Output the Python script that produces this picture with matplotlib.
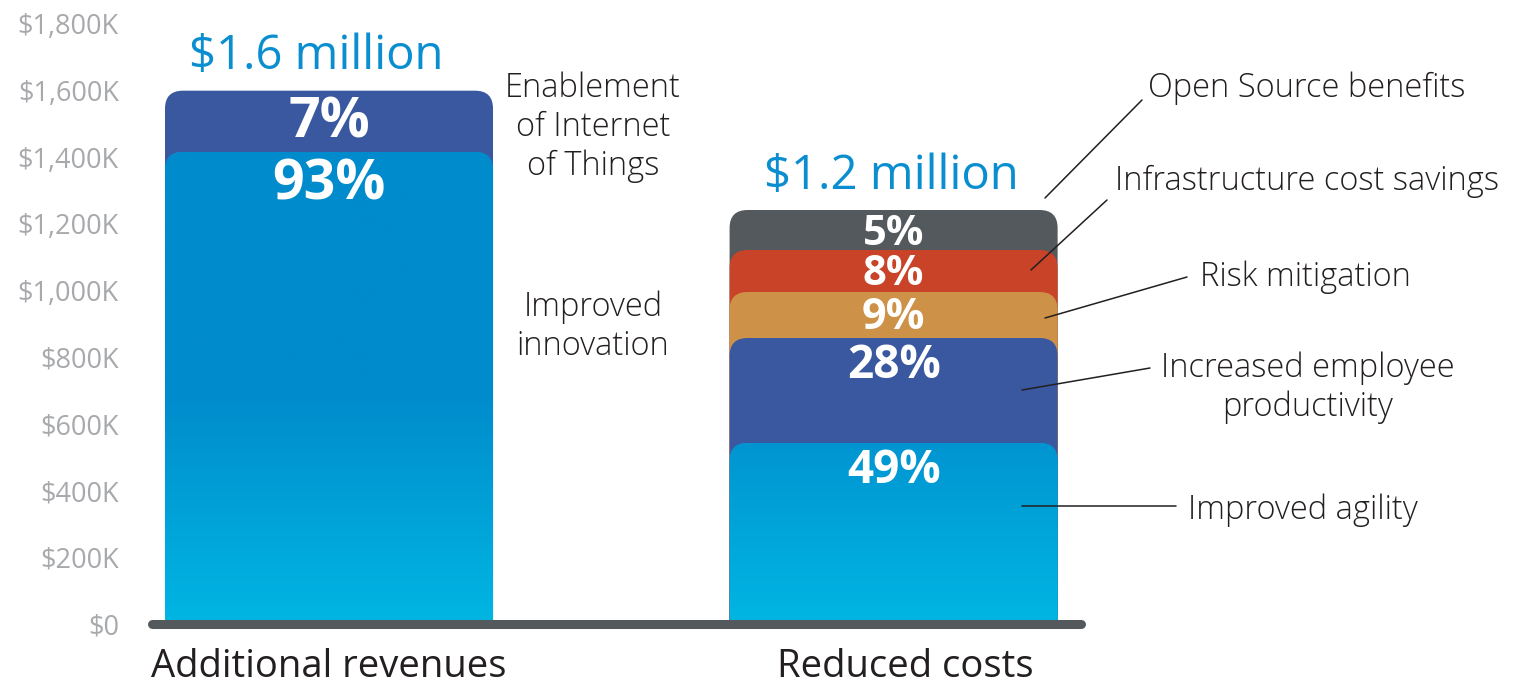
import numpy as np
import matplotlib
matplotlib.use("Agg")
import matplotlib.pyplot as plt
from matplotlib.patches import FancyBboxPatch
from matplotlib.colors import LinearSegmentedColormap

plt.rcParams['font.family'] = ['Open Sans', 'DejaVu Sans']

# ---------------------------------------------------------------
# data ($K), segments listed bottom -> top
# ---------------------------------------------------------------
categories = ["Additional revenues", "Reduced costs"]
totals_label = ["$1.6 million", "$1.2 million"]
rev_segments = [1416, 184]
rev_pcts = ["93%", "7%"]
cost_segments = [543, 315, 138, 126, 120]
cost_pcts = ["49%", "28%", "9%", "8%", "5%"]
rev_names = ["Improved\ninnovation", "Enablement\nof Internet\nof Things"]
cost_names = ["Improved agility", "Increased employee\nproductivity",
              "Risk mitigation", "Infrastructure cost savings",
              "Open Source benefits"]
y_ticks = [0, 200, 400, 600, 800, 1000, 1200, 1400, 1600, 1800]

# ---------------------------------------------------------------
# styling
# ---------------------------------------------------------------
LIGHT = "gradient"
rev_colors = [LIGHT, "#3A58A0"]
cost_colors = [LIGHT, "#3A58A0", "#CD9247", "#C84328", "#53595C"]
W, H = 1513, 686

fig = plt.figure(figsize=(W / 100, H / 100), dpi=100)
ax = fig.add_axes([148 / W, 62 / H, (1085 - 148) / W, 600 / H])
xlim = (-0.3206, 1.339)
ax.set_xlim(*xlim)
ax.set_ylim(0, 1800)
for s in ax.spines.values():
    s.set_visible(False)

bar_w = 0.581
px_x = (1085 - 148) / (xlim[1] - xlim[0])   # pixels per x unit
px_y = 600 / 1800                             # pixels per $K
radius_px = 18

grad_cmap = LinearSegmentedColormap.from_list("g", ["#00B6E3", "#008BCC"])


def draw_bar(xc, segs, colors, pcts, fsizes):
    tops = np.cumsum(segs)
    x0 = xc - bar_w / 2
    # top segments first so lower ones overlap them
    for i in range(len(segs) - 1, -1, -1):
        p = FancyBboxPatch((x0, -200), bar_w, tops[i] + 200,
                           boxstyle="round,pad=0,rounding_size=%f" % (radius_px / px_x),
                           mutation_aspect=px_x / px_y,
                           fc=colors[i] if colors[i] != LIGHT else "#00A0DA",
                           ec="none", zorder=2)
        ax.add_patch(p)
        if colors[i] == LIGHT:
            yy = np.linspace(0, 1, 256).reshape(-1, 1)
            yy = np.clip(yy * 1800 / 700, 0, 1)
            im = ax.imshow(yy, extent=(x0, x0 + bar_w, 0, 1800), origin="lower",
                           cmap=grad_cmap, aspect="auto", zorder=2.1)
            im.set_clip_path(p)
    for i in range(len(segs)):
        fs = fsizes[i]
        ax.annotate(pcts[i], (xc, tops[i]), xytext=(0, -fs * 1.389 * 0.59),
                    textcoords="offset pixels", ha="center", va="center",
                    color="white", fontsize=fs, fontweight="bold", zorder=5)
    return tops[-1]


t1 = draw_bar(0, rev_segments, rev_colors, rev_pcts, [40, 40])
t2 = draw_bar(1, cost_segments, cost_colors, cost_pcts, [33, 33, 31, 30, 30])

for xc, top, lab, dx in [(0, t1, totals_label[0], -13), (1, t2, totals_label[1], -2)]:
    ax.annotate(lab, (xc, top), xytext=(dx, 34), textcoords="offset pixels",
                ha="center", va="center", color="#0A8ED0", fontsize=34)

ax.set_xlim(*xlim)
ax.set_ylim(0, 1800)

# baseline
ax.plot([xlim[0] + 4 / px_x, xlim[1] - 4 / px_x], [0, 0], color="#53595C", lw=6.5,
        solid_capstyle="round", clip_on=False, zorder=4)

ax.set_yticks(y_ticks)
ax.set_yticklabels(["$0"] + ["${:,}K".format(v) for v in y_ticks[1:]],
                   color="#A7A9AC", fontsize=19.5)
ax.set_xticks([0, 1.02])
ax.set_xticklabels(categories, fontsize=27.5, color="#231F20")
ax.tick_params(axis="y", length=0, pad=21)
ax.tick_params(axis="x", length=0, pad=17)

# annotations, positions in image pixels (top-left origin)
def fp(x, y):
    return (x, H - y)

txt = dict(fontsize=23.5, color="#231F20", fontweight="light", linespacing=1.22)
fig.text(593 / W, 1 - 127 / H, rev_names[1], ha="center", va="center", **txt)
fig.text(593 / W, 1 - 327 / H, rev_names[0], ha="center", va="center", **txt)

label_pos = [(1188, 510, "left"), (1308, 388, "center"), (1200, 277, "left"),
             (1115, 181, "left"), (1148, 88, "left")]
leaders = [((1022, 506), (1176, 506)), ((1022, 390), (1150, 368)),
           ((1045, 318), (1187, 277)), ((1031, 270), (1107, 200)),
           ((1045, 198), (1142, 100))]
for name, (lx, ly, ha), (a, b) in zip(cost_names, label_pos, leaders):
    fig.text(lx / W, 1 - ly / H, name, ha=ha, va="center", **txt)
    ax.annotate("", xy=fp(*a), xycoords="figure pixels", xytext=fp(*b),
                textcoords="figure pixels",
                arrowprops=dict(arrowstyle="-", lw=1.1, color="#231F20",
                                shrinkA=0, shrinkB=0), zorder=6)

fig.savefig("out.png", dpi=100)
